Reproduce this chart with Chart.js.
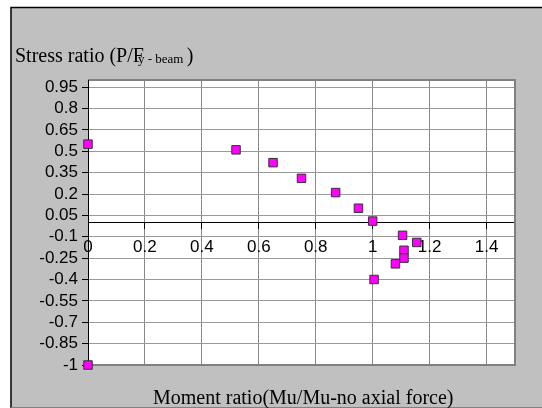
<!DOCTYPE html>
<html>
<head>
<meta charset="utf-8">
<script src="https://cdn.jsdelivr.net/npm/chart.js@4"></script>
<style>
  html, body { margin: 0; padding: 0; background: #fff; }
  canvas { display: block; }
</style>
</head>
<body>
<canvas id="chart" width="542" height="408"></canvas>
<script>
// moment ratio (Mu/Mu-no axial force) vs stress ratio (P/Fy-beam)
const momentRatio = [0, 0.52, 0.65, 0.75, 0.87, 0.95, 1.0, 1.105, 1.155, 1.11, 1.11, 1.08, 1.005, 0];
const stressRatio = [0.55, 0.51, 0.42, 0.31, 0.21, 0.10, 0.01, -0.09, -0.14, -0.195, -0.25, -0.29, -0.40, -1];

const xTicks = [0, 0.2, 0.4, 0.6, 0.8, 1, 1.2, 1.4];
const yTicks = [-1, -0.85, -0.7, -0.55, -0.4, -0.25, -0.1, 0.05, 0.2, 0.35, 0.5, 0.65, 0.8, 0.95];

const points = momentRatio.map((x, i) => ({ x: x, y: stressRatio[i] }));

const serif = '"Liberation Serif", "Times New Roman", serif';
const sans = '"Liberation Sans", Arial, sans-serif';

const frame = {
  id: 'frame',
  beforeDraw(chart) {
    const c = chart.ctx, a = chart.chartArea;
    c.save();
    c.fillStyle = '#fff';
    c.fillRect(0, 0, chart.width, chart.height);
    c.fillStyle = '#c0c0c0';
    c.fillRect(11, 7, chart.width - 11, chart.height - 7);
    c.strokeStyle = '#000';
    c.lineWidth = 1.5;
    c.beginPath();
    c.moveTo(11, chart.height);
    c.lineTo(11, 7.5);
    c.lineTo(chart.width, 7.5);
    c.stroke();
    c.strokeStyle = '#808080';
    c.lineWidth = 1;
    c.beginPath();
    c.moveTo(11, 407.5);
    c.lineTo(chart.width, 407.5);
    c.stroke();
    c.fillStyle = '#fff';
    c.fillRect(a.left, a.top, a.right - a.left, a.bottom - a.top);
    c.restore();
  },
  beforeDatasetsDraw(chart) {
    const c = chart.ctx, a = chart.chartArea;
    c.save();
    c.strokeStyle = '#808080';
    c.lineWidth = 2;
    c.beginPath();
    c.moveTo(a.left, a.top);
    c.lineTo(a.right, a.top);
    c.lineTo(a.right, a.bottom);
    c.lineTo(a.left, a.bottom);
    c.stroke();
    c.strokeStyle = '#000';
    c.lineWidth = 1;
    c.beginPath();
    c.moveTo(a.left + 0.5, a.top);
    c.lineTo(a.left + 0.5, a.bottom);
    c.stroke();
    c.restore();
  },
  afterDraw(chart) {
    const c = chart.ctx;
    c.save();
    c.fillStyle = '#000';
    c.textBaseline = 'alphabetic';
    c.textAlign = 'left';
    c.font = '20px ' + serif;
    const head = 'Stress ratio (P/F';
    c.fillText(head, 15, 62);
    let x = 15 + c.measureText(head).width - 6;
    c.font = '13px ' + serif;
    c.fillText('y - beam', x, 63);
    x += c.measureText('y - beam ').width;
    c.font = '20px ' + serif;
    c.fillText(')', x, 62);
    c.fillText('Moment ratio(Mu/Mu-no axial force)', 153, 404);
    c.restore();
  }
};

new Chart(document.getElementById('chart'), {
  type: 'scatter',
  data: {
    datasets: [{
      data: points,
      clip: false,
      pointStyle: 'rect',
      pointRadius: 6,
      pointHoverRadius: 6,
      backgroundColor: '#ff00ff',
      borderColor: '#333',
      borderWidth: 1
    }]
  },
  options: {
    responsive: false,
    animation: false,
    devicePixelRatio: 1,
    layout: { padding: { top: 80, left: 0, right: 27, bottom: 43 } },
    plugins: { legend: { display: false }, tooltip: { enabled: false } },
    scales: {
      x: {
        type: 'linear',
        min: 0,
        max: 1.5,
        position: { y: 0 },
        afterBuildTicks: s => { s.ticks = xTicks.map(v => ({ value: v })); },
        grid: {
          color: '#888',
          tickColor: '#000',
          tickLength: 6,
          lineWidth: 1
        },
        border: { color: '#000', width: 1 },
        ticks: {
          color: '#000',
          font: { family: sans, size: 17 },
          padding: 9,
          maxRotation: 0,
          autoSkip: false,
          callback: v => String(v)
        }
      },
      y: {
        type: 'linear',
        min: -1,
        max: 1,
        position: 'left',
        afterBuildTicks: s => { s.ticks = yTicks.map(v => ({ value: v })); },
        afterFit: s => { s.width = 88; },
        grid: {
          color: '#999',
          tickColor: '#000',
          tickLength: 6,
          lineWidth: 1
        },
        border: { color: '#000', width: 1 },
        ticks: {
          color: '#000',
          font: { family: sans, size: 17 },
          padding: 4,
          autoSkip: false,
          callback: v => String(v)
        }
      }
    }
  },
  plugins: [frame]
});
</script>
</body>
</html>
